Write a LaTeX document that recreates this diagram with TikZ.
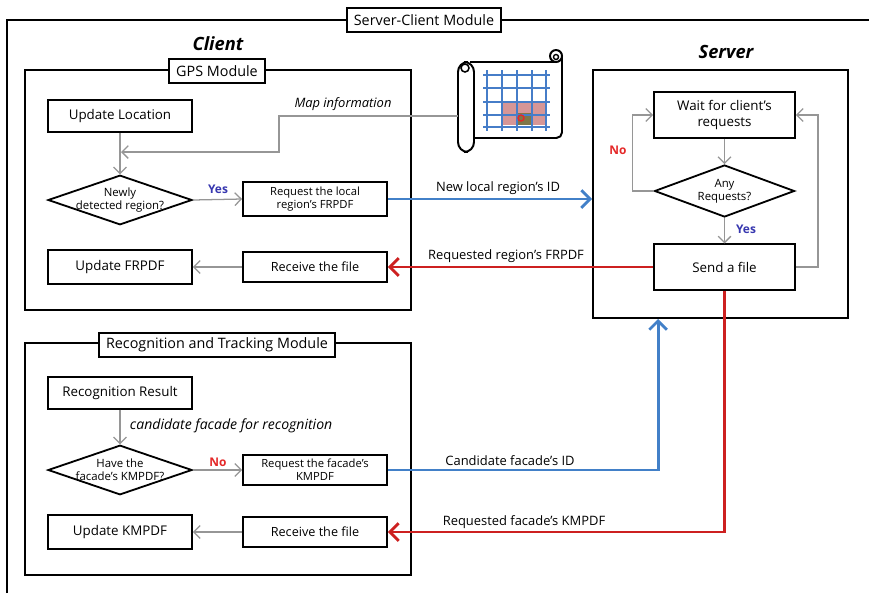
\documentclass[tikz,border=0pt]{standalone}
\usepackage{fontspec}
\setmainfont{Open Sans}
\usetikzlibrary{arrows.meta,positioning,shapes.geometric,calc}
\definecolor{linkblue}{RGB}{66,128,200}
\definecolor{linkred}{RGB}{205,32,32}
\definecolor{flowgray}{RGB}{150,150,150}
\definecolor{yesblue}{RGB}{55,55,175}
\definecolor{nored}{RGB}{228,40,40}
\definecolor{gridblue}{RGB}{70,125,200}
\definecolor{cellpink}{RGB}{214,150,150}
\definecolor{cellolive}{RGB}{128,118,72}
\tikzset{
  % ---- containers -------------------------------------------------------
  frame/.style={draw=black, line width=1.3pt},
  modbox/.style={frame, minimum width=96.5mm},
  tab/.style={draw=black, line width=1.2pt, fill=white, inner xsep=5pt,
    minimum height=6mm, font=\fontsize{10.2}{12}\selectfont},
  side/.style={font=\bfseries\itshape\fontsize{13}{15}\selectfont},
  % ---- flow elements ----------------------------------------------------
  stepbox/.style={draw=black, line width=1.3pt, fill=white, align=center,
    minimum width=36mm, minimum height=8mm, font=\fontsize{9.5}{11}\selectfont},
  stepboxs/.style={stepbox, minimum height=7.6mm, font=\fontsize{8}{9}\selectfont},
  dia/.style={diamond, draw=black, line width=1.3pt, fill=white, inner sep=0pt,
    minimum width=36mm, minimum height=12.4mm},
  dtext/.style={align=center, font=\fontsize{8.1}{9}\selectfont},
  % ---- arrows -----------------------------------------------------------
  garr/.style={-{Straight Barb[length=1.6mm,width=3.2mm]}, draw=flowgray, line width=0.9pt},
  barr/.style={-{Straight Barb[length=2.2mm,width=4.4mm]}, draw=linkblue, line width=2pt},
  rarr/.style={-{Straight Barb[length=2.2mm,width=4.4mm]}, draw=linkred, line width=2pt},
  % ---- labels -----------------------------------------------------------
  lbl/.style={font=\fontsize{9.2}{10}\selectfont},
  ilbl/.style={font=\itshape\fontsize{9.2}{10}\selectfont},
  yes/.style={text=yesblue, font=\bfseries\fontsize{8.5}{10}\selectfont},
  no/.style={text=nored, font=\bfseries\fontsize{8.5}{10}\selectfont},
}

\begin{document}
\begin{tikzpicture}[x=0.25mm,y=-0.25mm]
\useasboundingbox (0,0) rectangle (869,593);

% outer frame, open to the right and the bottom
\draw[frame] (7,593) -- (7,20) -- (869,20);
\node[tab] (mtitle) at (424,20) {Server-Client Module};

\node[side] (client) at (218,44) {Client};
\node[side] (server) at (726,52) {Server};

% ============================ GPS module ==================================
\node[modbox, minimum height=60mm] (gps) at (218,190) {};
\node[tab] (gpstab) at (217,71) {GPS Module};

\node[stepbox] (uloc) at (120,116) {Update Location};
\node[dia, label={[dtext]center:{Newly\\detected region?}}] (nd1) at (120,200) {};
\node[stepboxs] (rq1) at (315,199) {Request the local\\region's FRPDF};
\node[stepbox, minimum height=8.5mm] (ufr) at (120,267) {Update FRPDF};
\node[stepboxs, font=\fontsize{9}{10}\selectfont] (rcv1) at (315,267) {Receive the file};

% map scroll
\fill[white] (465,62) rectangle (562,138);
\fill[cellpink] (503,102) rectangle (547,125);
\fill[cellolive] (517,113) rectangle (532,125);
\foreach \gx in {487,502,517,532,546} { \draw[gridblue, line width=1.3pt] (\gx,70) -- (\gx,131); }
\foreach \gy in {75,88,102,115,127} { \draw[gridblue, line width=1.3pt] (483,\gy) -- (550,\gy); }
\draw[nored, line width=1pt] (521,118) circle (3);
\draw[line width=1.4pt, rounded corners=4pt] (470,62) -- (556,62);
\draw[line width=1.4pt, rounded corners=4pt] (562,56) -- (562,138) -- (470,138);
\draw[line width=1.4pt, fill=white] (556,56) circle (6);
\draw[line width=1pt] (556,57) circle (2.5);
\draw[line width=1.4pt, fill=white, rounded corners=7pt] (458,62) rectangle (474,152);
\draw[line width=1.1pt] (465,68) circle (4);
\coordinate (mapL) at (458,116);
\coordinate (mapin) at (121,152);

\draw[garr] (uloc) -- (nd1);
\draw[garr] (mapL) -| (279,152) -- (mapin);
\node[ilbl] at (343,104) {Map information};
\draw[garr] (nd1.east) -- (rq1.west);
\node[yes] at (218,189) {Yes};
\draw[garr] (rcv1) -- (ufr);

% ============================ server ======================================
\node[frame, minimum width=63.75mm, minimum height=62mm] (srv) at (720.5,194) {};
\node[stepbox, minimum width=35.25mm, minimum height=11.5mm] (wait) at (724.5,115)
  {Wait for client's\\requests};
\node[dia, minimum width=35mm, minimum height=13mm,
  label={[dtext]center:{Any\\Requests?}}] (any) at (724.5,191) {};
\node[stepbox, minimum width=35.25mm, minimum height=11.3mm] (send) at (724.5,267) {Send a file};

\draw[garr] (wait) -- (any);
\draw[garr] (any) -- (send);
\node[yes] at (746,229) {Yes};
\draw[garr] (any.west) -- ++(-21,0) |- (wait.west);
\node[no] at (618,150) {No};
\draw[garr] (send.east) -- ++(22,0) |- (wait.east);

% client <-> server links, GPS side
\draw[barr] (rq1.east) -- (rq1.east -| srv.west);
\node[lbl] at (498,188) {New local region's ID};
\draw[rarr] (send.west) -- (rcv1.east);
\node[lbl] at (506,256) {Requested region's FRPDF};

% ===================== recognition and tracking module ====================
\node[modbox, minimum height=58mm] (rec) at (218,459) {};
\node[tab] (rectab) at (217,345) {Recognition and Tracking Module};

\node[stepbox, minimum height=7.8mm] (rres) at (120,393) {Recognition Result};
\node[dia, label={[dtext]center:{Have the\\facade's KMPDF?}}] (nd2) at (120,470) {};
\node[stepboxs] (rq2) at (315,470) {Request the facade's\\KMPDF};
\node[stepbox, minimum height=8.3mm] (ukm) at (120,532) {Update KMPDF};
\node[stepboxs, font=\fontsize{9}{10}\selectfont] (rcv2) at (315,532) {Receive the file};

\draw[garr] (rres) -- (nd2);
\node[ilbl, anchor=west, font=\itshape\fontsize{10}{11}\selectfont] at (125,426)
  {candidate facade for recognition};
\draw[garr] (nd2.east) -- (rq2.west);
\node[no] at (218,462) {No};
\draw[garr] (rcv2) -- (ukm);

% client <-> server links, recognition side
\draw[barr] (rq2.east) -| ($(srv.south west)+(66,0)$);
\node[lbl] at (510,461) {Candidate facade's ID};
\draw[rarr] (send.south) |- (rcv2.east);
\node[lbl] at (524,522) {Requested facade's KMPDF};

\end{tikzpicture}
\end{document}
